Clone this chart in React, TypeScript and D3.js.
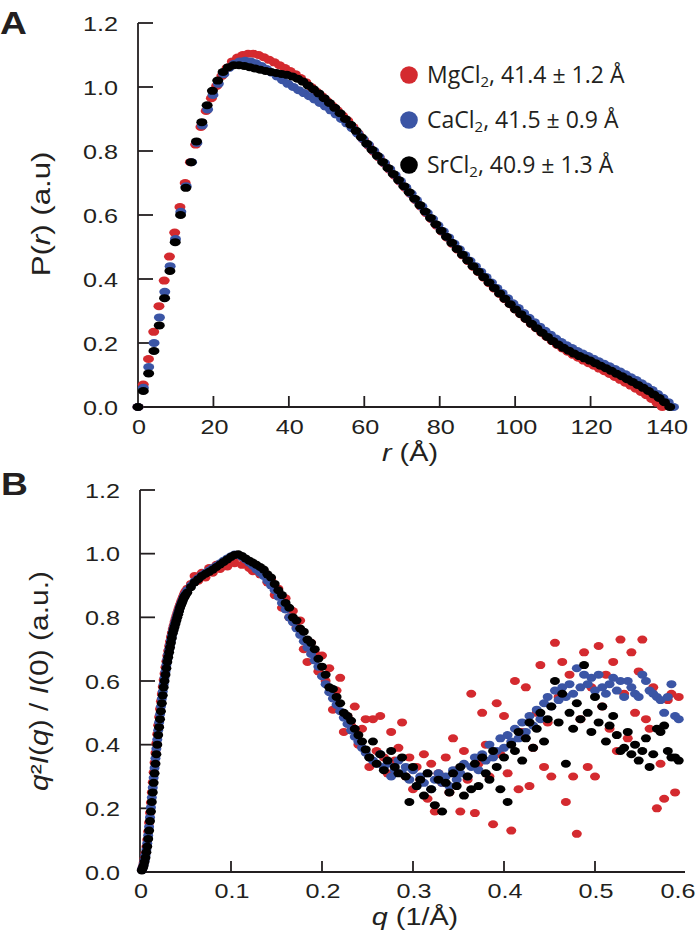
import React from 'react';
import * as d3 from 'd3';

const W = 700;
const H = 931;
const RED = '#d42a2f';
const BLUE = '#3b55a5';
const BLACK = '#000';
const FONT = 'Liberation Sans, Arial, Helvetica, sans-serif';
const SX = 1.2; // the original lettering is a bit wider than Arial

// ---- panel A: P(r), 101 points per curve from 0 to Dmax
const dmax = [139, 142, 141]; // Mg, Ca, Sr
const prMg = [0, 0.07, 0.15, 0.235, 0.315, 0.395, 0.47, 0.545, 0.625, 0.70,
  0.765, 0.82, 0.875, 0.925, 0.965, 1.003, 1.035, 1.06, 1.08, 1.092,
  1.10, 1.104, 1.104, 1.10, 1.093, 1.085, 1.077, 1.068, 1.059, 1.05,
  1.04, 1.028, 1.015, 1.0, 0.986, 0.972, 0.957, 0.942, 0.927, 0.911,
  0.895, 0.875, 0.855, 0.836, 0.817, 0.798, 0.78, 0.761, 0.742, 0.723,
  0.704, 0.685, 0.666, 0.646, 0.626, 0.606, 0.587, 0.567, 0.548, 0.529,
  0.51, 0.492, 0.474, 0.456, 0.438, 0.421, 0.404, 0.387, 0.37, 0.353,
  0.337, 0.321, 0.305, 0.29, 0.275, 0.26, 0.246, 0.232, 0.219, 0.206,
  0.194, 0.183, 0.173, 0.163, 0.154, 0.145, 0.137, 0.129, 0.12, 0.112,
  0.103, 0.094, 0.085, 0.076, 0.067, 0.057, 0.047, 0.037, 0.025, 0.013,
  0];
const prCa = [0, 0.06, 0.125, 0.2, 0.28, 0.36, 0.44, 0.525, 0.61, 0.69,
  0.765, 0.825, 0.88, 0.93, 0.975, 1.01, 1.04, 1.06, 1.073, 1.08,
  1.082, 1.08, 1.074, 1.066, 1.056, 1.045, 1.033, 1.021, 1.01, 1.0,
  0.99, 0.981, 0.971, 0.961, 0.95, 0.939, 0.927, 0.914, 0.90, 0.886,
  0.871, 0.855, 0.838, 0.82, 0.801, 0.782, 0.763, 0.744, 0.725, 0.706,
  0.687, 0.667, 0.647, 0.627, 0.607, 0.588, 0.568, 0.549, 0.53, 0.511,
  0.493, 0.475, 0.457, 0.44, 0.423, 0.406, 0.389, 0.372, 0.356, 0.34,
  0.324, 0.309, 0.294, 0.279, 0.265, 0.251, 0.238, 0.226, 0.214, 0.203,
  0.193, 0.184, 0.175, 0.167, 0.159, 0.151, 0.143, 0.135, 0.127, 0.119,
  0.111, 0.102, 0.093, 0.084, 0.074, 0.064, 0.053, 0.041, 0.029, 0.015,
  0];
const prSr = [0, 0.05, 0.105, 0.175, 0.255, 0.34, 0.425, 0.515, 0.60, 0.685,
  0.765, 0.83, 0.89, 0.943, 0.988, 1.02, 1.047, 1.062, 1.068, 1.068,
  1.066, 1.062, 1.058, 1.054, 1.05, 1.047, 1.044, 1.041, 1.038, 1.033,
  1.026, 1.017, 1.005, 0.993, 0.98, 0.965, 0.95, 0.935, 0.918, 0.90,
  0.882, 0.863, 0.843, 0.823, 0.804, 0.785, 0.766, 0.747, 0.728, 0.709,
  0.69, 0.671, 0.651, 0.631, 0.611, 0.591, 0.571, 0.551, 0.532, 0.513,
  0.494, 0.476, 0.458, 0.44, 0.423, 0.406, 0.389, 0.372, 0.355, 0.338,
  0.321, 0.305, 0.29, 0.275, 0.26, 0.246, 0.232, 0.219, 0.206, 0.195,
  0.185, 0.176, 0.167, 0.159, 0.152, 0.145, 0.137, 0.129, 0.121, 0.113,
  0.104, 0.096, 0.087, 0.078, 0.069, 0.06, 0.05, 0.039, 0.028, 0.015,
  0];

// ---- panel B: Kratky, q grid 0.002..0.050 (step 0.001) then 0.052..0.592 (step 0.004)
const krMg = [0.007, 0.016, 0.028, 0.042, 0.059, 0.079, 0.101, 0.127, 0.155, 0.186,
  0.218, 0.25, 0.282, 0.313, 0.344, 0.374, 0.404, 0.433, 0.461, 0.487,
  0.512, 0.536, 0.559, 0.582, 0.603, 0.623, 0.643, 0.662, 0.679, 0.695,
  0.71, 0.724, 0.738, 0.751, 0.763, 0.774, 0.785, 0.795, 0.805, 0.814,
  0.823, 0.832, 0.84, 0.848, 0.855, 0.862, 0.869, 0.876, 0.882,
  // high q
  0.89, 0.905, 0.93, 0.915, 0.94, 0.925, 0.955, 0.94, 0.965, 0.952,
  0.975, 0.96, 0.985, 0.97, 0.99, 0.965, 0.975, 0.955, 0.945, 0.96,
  0.935, 0.945, 0.91, 0.92, 0.87, 0.89, 0.83, 0.86, 0.80, 0.82,
  0.77, 0.79, 0.70, 0.66, 0.72, 0.69, 0.63, 0.68, 0.60, 0.64,
  0.51, 0.57, 0.61, 0.44, 0.49, 0.46, 0.52, 0.40, 0.45, 0.48,
  0.33, 0.48, 0.38, 0.49, 0.36, 0.31, 0.44, 0.35, 0.39, 0.47,
  0.30, 0.36, 0.26, 0.33, 0.29, 0.37, 0.23, 0.34, 0.19, 0.31,
  0.28, 0.36, 0.25, 0.42, 0.32, 0.19, 0.38, 0.29, 0.56, 0.185,
  0.34, 0.50, 0.40, 0.30, 0.15, 0.53, 0.37, 0.49, 0.31, 0.13,
  0.60, 0.26, 0.44, 0.58, 0.27, 0.39, 0.50, 0.65, 0.33, 0.47,
  0.30, 0.72, 0.55, 0.66, 0.22, 0.62, 0.30, 0.12, 0.48, 0.69,
  0.33, 0.58, 0.30, 0.71, 0.52, 0.62, 0.45, 0.66, 0.38, 0.73,
  0.56, 0.42, 0.69, 0.50, 0.63, 0.73, 0.48, 0.45, 0.58, 0.20,
  0.34, 0.23, 0.54, 0.56, 0.25, 0.55];
const krCa = [0.006, 0.014, 0.024, 0.037, 0.052, 0.07, 0.09, 0.115, 0.142, 0.172,
  0.203, 0.234, 0.265, 0.296, 0.327, 0.357, 0.387, 0.416, 0.445, 0.47,
  0.495, 0.52, 0.544, 0.567, 0.59, 0.61, 0.63, 0.65, 0.668, 0.684,
  0.699, 0.714, 0.728, 0.742, 0.755, 0.766, 0.777, 0.787, 0.797, 0.807,
  0.816, 0.825, 0.834, 0.842, 0.849, 0.856, 0.863, 0.869, 0.875,
  // high q
  0.885, 0.9, 0.913, 0.923, 0.932, 0.94, 0.947, 0.955, 0.962, 0.97,
  0.978, 0.985, 0.992, 0.997, 0.996, 0.99, 0.982, 0.972, 0.962, 0.95,
  0.94, 0.93, 0.915, 0.90, 0.885, 0.865, 0.845, 0.825, 0.80, 0.785,
  0.765, 0.745, 0.725, 0.705, 0.685, 0.665, 0.645, 0.615, 0.59, 0.565,
  0.545, 0.525, 0.505, 0.485, 0.465, 0.445, 0.425, 0.41, 0.39, 0.375,
  0.36, 0.35, 0.34, 0.37, 0.33, 0.34, 0.30, 0.32, 0.35, 0.31,
  0.33, 0.29, 0.32, 0.27, 0.30, 0.28, 0.31, 0.26, 0.29, 0.31,
  0.28, 0.30, 0.27, 0.32, 0.29, 0.31, 0.34, 0.30, 0.33, 0.36,
  0.32, 0.37, 0.35, 0.40, 0.36, 0.38, 0.42, 0.39, 0.43, 0.41,
  0.45, 0.42, 0.47, 0.44, 0.49, 0.46, 0.51, 0.48, 0.53, 0.55,
  0.52, 0.57, 0.54, 0.58, 0.55, 0.59, 0.56, 0.64, 0.58, 0.62,
  0.59, 0.61, 0.57, 0.62, 0.58, 0.56, 0.59, 0.61, 0.57, 0.60,
  0.55, 0.60, 0.58, 0.56, 0.55, 0.62, 0.60, 0.57, 0.56, 0.55,
  0.54, 0.50, 0.55, 0.59, 0.49, 0.48];
const krSr = [0.005, 0.012, 0.02, 0.032, 0.045, 0.062, 0.08, 0.104, 0.13, 0.16,
  0.19, 0.22, 0.25, 0.28, 0.31, 0.34, 0.37, 0.40, 0.43, 0.455,
  0.48, 0.505, 0.53, 0.555, 0.58, 0.60, 0.62, 0.64, 0.66, 0.675,
  0.69, 0.705, 0.72, 0.735, 0.75, 0.76, 0.77, 0.78, 0.79, 0.80,
  0.81, 0.82, 0.83, 0.838, 0.845, 0.852, 0.86, 0.865, 0.87,
  // high q
  0.878, 0.895, 0.91, 0.92, 0.93, 0.937, 0.943, 0.95, 0.958, 0.966,
  0.974, 0.982, 0.99, 0.996, 0.998, 0.993, 0.985, 0.978, 0.972, 0.965,
  0.958, 0.95, 0.935, 0.925, 0.905, 0.885, 0.87, 0.845, 0.83, 0.80,
  0.79, 0.765, 0.755, 0.73, 0.72, 0.70, 0.67, 0.645, 0.62, 0.58,
  0.575, 0.55, 0.53, 0.50, 0.49, 0.475, 0.45, 0.43, 0.41, 0.385,
  0.36, 0.41, 0.34, 0.37, 0.32, 0.35, 0.38, 0.33, 0.31, 0.36,
  0.30, 0.22, 0.33, 0.27, 0.29, 0.24, 0.31, 0.26, 0.21, 0.29,
  0.19, 0.28, 0.25, 0.31, 0.27, 0.33, 0.24, 0.30, 0.26, 0.34,
  0.27, 0.36, 0.31, 0.29, 0.38, 0.33, 0.26, 0.36, 0.22, 0.40,
  0.38, 0.44, 0.35, 0.42, 0.47, 0.39, 0.45, 0.50, 0.41, 0.48,
  0.52, 0.60, 0.47, 0.56, 0.34, 0.50, 0.45, 0.53, 0.48, 0.65,
  0.50, 0.44, 0.55, 0.47, 0.52, 0.41, 0.46, 0.49, 0.43, 0.38,
  0.39, 0.44, 0.37, 0.40, 0.35, 0.38, 0.42, 0.33, 0.37, 0.45,
  0.44, 0.46, 0.38, 0.36, 0.36, 0.35];

const salts = ['MgCl', 'CaCl', 'SrCl'];
const rgLabels = ['41.4 ± 1.2 Å', '41.5 ± 0.9 Å', '40.9 ± 1.3 Å'];
const colors = [RED, BLUE, BLACK];

const rTicks = [0, 20, 40, 60, 80, 100, 120, 140];
const qTicks = [0, 0.1, 0.2, 0.3, 0.4, 0.5, 0.6];
const yTicks = [0, 0.2, 0.4, 0.6, 0.8, 1.0, 1.2];

const qGrid = d3.range(49).map((i) => 0.002 + i * 0.001)
  .concat(d3.range(136).map((i) => 0.052 + i * 0.004));

// scales
const xA = d3.scaleLinear().domain([0, 140]).range([138, 666]);
const yA = d3.scaleLinear().domain([0, 1.2]).range([407, 23]);
const xB = d3.scaleLinear().domain([0, 0.6]).range([140, 686]);
const yB = d3.scaleLinear().domain([0, 1.2]).range([872, 490]);

const Wide = ({ x, y, anchor = 'middle', size = 21, rotate = 0, weight = 'normal', children }: any) => (
  <text
    transform={`translate(${x},${y})${rotate ? ` rotate(${rotate})` : ''} scale(${SX},1)`}
    textAnchor={anchor}
    fontSize={size}
    fontWeight={weight}
    fontFamily={FONT}
    fill="#231f20"
  >
    {children}
  </text>
);

const Axes = ({ x, y, xTicks, xEnd, xFmt, labelY }: any) => {
  const x0 = x.range()[0];
  const y0 = y.range()[0];
  const yTop = y.range()[1];
  return (
    <g>
      <path d={`M${x0},${yTop}V${y0}H${xEnd}`} fill="none" stroke="#231f20" strokeWidth={1.8} />
      {yTicks.map((t) => (
        <g key={'y' + t}>
          <line x1={x0} x2={x0 + 15} y1={y(t)} y2={y(t)} stroke="#231f20" strokeWidth={1.8} />
          <Wide x={x0 - 20} y={y(t) + 7.5} anchor="end">{d3.format('.1f')(t)}</Wide>
        </g>
      ))}
      {xTicks.map((t: number) => {
        const px = x(t);
        const atEnd = px > xEnd - 4;
        return (
          <g key={'x' + t}>
            {t > 0 && !atEnd && (
              <line x1={px} x2={px} y1={y0} y2={y0 - 11} stroke="#231f20" strokeWidth={1.8} />
            )}
            <Wide x={atEnd ? px - 8 : px + 1} y={labelY} anchor="middle">{xFmt(t)}</Wide>
          </g>
        );
      })}
    </g>
  );
};

const Dots = ({ xs, ys, x, y, color, rx, ry }: any) => (
  <g fill={color}>
    {ys.map((v: number, i: number) => (
      <ellipse key={i} cx={x(xs[i])} cy={y(v)} rx={rx} ry={ry} />
    ))}
  </g>
);

export default function App() {
  const prSets = [prMg, prCa, prSr];
  const krSets = [krMg, krCa, krSr];
  return (
    <svg width={W} height={H} style={{ position: 'absolute', left: 0, top: 0, background: '#fff' }}>
      {/* Panel A */}
      <Wide x={0} y={34} anchor="start" size={31} weight="bold">A</Wide>
      <Axes x={xA} y={yA} xTicks={rTicks} xEnd={678} xFmt={(t: number) => String(t)} labelY={434} />
      {prSets.map((s, k) => (
        <Dots key={k} xs={d3.range(101).map((i) => (i * dmax[k]) / 100)} ys={s} x={xA} y={yA}
          color={colors[k]} rx={5.5} ry={4} />
      ))}
      <Wide x={410} y={461} size={24}>
        <tspan fontStyle="italic">r</tspan> (Å)
      </Wide>
      <Wide x={50} y={214} rotate={-90} size={26}>
        P(<tspan fontStyle="italic">r</tspan>) (a.u)
      </Wide>
      {salts.map((s, k) => (
        <g key={s}>
          <circle cx={409} cy={75 + k * 45} r={8.8} fill={colors[k]} />
          <text x={427} y={83 + k * 45} fontFamily="Open Sans, sans-serif" fontSize={23} fill="#231f20">
            {s}
            <tspan fontSize={15} dy={4}>2</tspan>
            <tspan dy={-4}>{', ' + rgLabels[k]}</tspan>
          </text>
        </g>
      ))}

      {/* Panel B */}
      <Wide x={1} y={495} anchor="start" size={31} weight="bold">B</Wide>
      <Axes x={xB} y={yB} xTicks={qTicks} xEnd={685} xFmt={(t: number) => (t === 0 ? '0' : d3.format('.1f')(t))} labelY={898} />
      {krSets.map((s, k) => (
        <Dots key={k} xs={qGrid} ys={s} x={xB} y={yB} color={colors[k]} rx={5} ry={4} />
      ))}
      <Wide x={415} y={925} size={24}>
        <tspan fontStyle="italic">q</tspan> (1/Å)
      </Wide>
      <Wide x={48} y={681} rotate={-90} size={25}>
        <tspan fontStyle="italic">q</tspan>²<tspan fontStyle="italic">I</tspan>(<tspan fontStyle="italic">q</tspan>) / <tspan fontStyle="italic">I</tspan>(0) (a.u.)
      </Wide>
    </svg>
  );
}
